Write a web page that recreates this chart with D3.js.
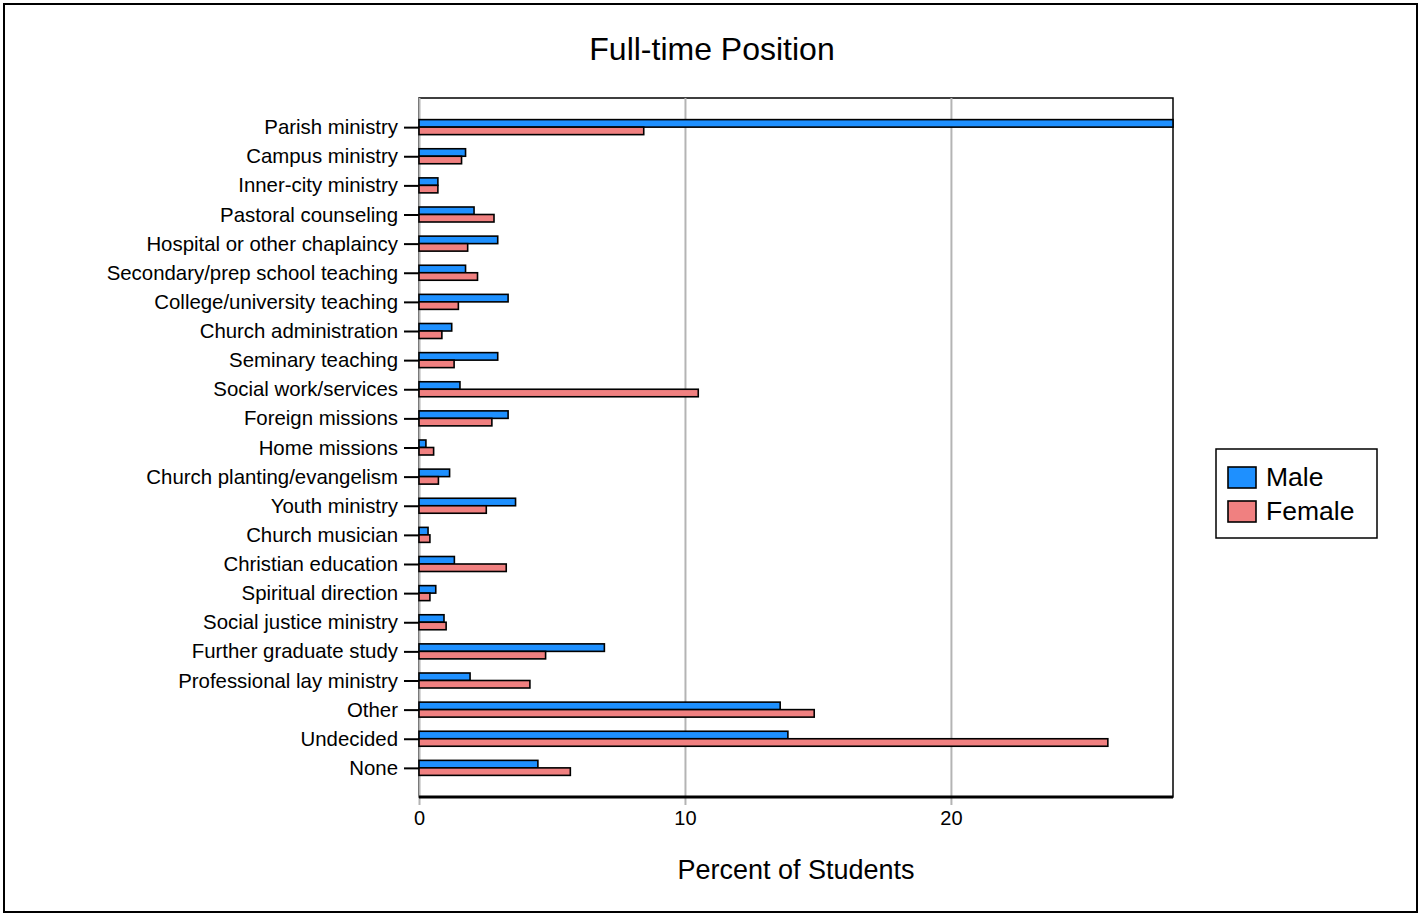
<!DOCTYPE html>
<html>
<head>
<meta charset="utf-8">
<script src="https://cdn.jsdelivr.net/npm/d3@7"></script>
<style>
  body { margin: 0; background: #fff; }
  text { font-family: "Liberation Sans", Arial, sans-serif; fill: #000; }
</style>
</head>
<body>
<svg id="chart"></svg>
<script>
// categories, top to bottom
var categories = [
  "Parish ministry", "Campus ministry", "Inner-city ministry", "Pastoral counseling",
  "Hospital or other chaplaincy", "Secondary/prep school teaching", "College/university teaching",
  "Church administration", "Seminary teaching", "Social work/services", "Foreign missions",
  "Home missions", "Church planting/evangelism", "Youth ministry", "Church musician",
  "Christian education", "Spiritual direction", "Social justice ministry",
  "Further graduate study", "Professional lay ministry", "Other", "Undecided", "None"
];
var maleValues = [28.35, 1.75, 0.71, 2.07, 2.96, 1.75, 3.35, 1.23, 2.96, 1.54, 3.35, 0.26,
  1.15, 3.63, 0.34, 1.33, 0.63, 0.94, 6.97, 1.92, 13.58, 13.87, 4.47];
var femaleValues = [8.45, 1.6, 0.71, 2.82, 1.83, 2.2, 1.48, 0.86, 1.32, 10.5, 2.74, 0.55,
  0.73, 2.53, 0.41, 3.28, 0.41, 1.02, 4.76, 4.17, 14.86, 25.9, 5.69];
var seriesNames = ["Male", "Female"];
var xTicks = [0, 10, 20];

var W = 1421, H = 916;
var margin = { top: 98, right: 248, bottom: 119, left: 419 };
var width = W - margin.left - margin.right,
  height = H - margin.top - margin.bottom;

var svg = d3.select("#chart").attr("width", W).attr("height", H);

// outer frame
svg.append("rect")
  .attr("x", 4).attr("y", 4)
  .attr("width", W - 8).attr("height", H - 8)
  .attr("fill", "none").attr("stroke", "#000").attr("stroke-width", 2);

var color = d3.scaleOrdinal().domain(seriesNames).range(["#1E90FF", "#F08080"]);

var xScale = d3.scaleLinear().domain([0, 28.35]).range([0, width]);
var yScale = d3.scalePoint().domain(categories).range([0, height]).padding(1);
var sexScale = d3.scaleBand().domain(seriesNames).range([-7.5, 7.5]);

var rows = categories.map(function(c, i) {
  return { cat: c, values: [
    { sex: "Male", v: maleValues[i] },
    { sex: "Female", v: femaleValues[i] }
  ] };
});

var g = svg.append("g")
  .attr("transform", "translate(" + margin.left + "," + margin.top + ")");

// plot frame
g.append("rect")
  .attr("width", width).attr("height", height)
  .attr("fill", "none").attr("stroke", "#000").attr("stroke-width", 1.5);

// grid lines + x ticks
g.append("g")
  .attr("class", "grid")
  .attr("transform", "translate(0," + height + ")")
  .call(d3.axisBottom(xScale).tickValues(xTicks).tickSize(height + 8).tickFormat(""))
  .call(function(s) {
    s.select(".domain").remove();
    s.selectAll(".tick line")
      .attr("transform", "translate(0," + (-height) + ")")
      .attr("stroke", "#b4b4b4").attr("stroke-width", 2);
  });

// x tick labels
g.append("g")
  .attr("transform", "translate(0," + height + ")")
  .call(d3.axisBottom(xScale).tickValues(xTicks).tickSize(0).tickPadding(14))
  .call(function(s) {
    s.select(".domain").remove();
    s.selectAll("text").attr("font-size", "20px").attr("fill", "#000");
  });

// bottom axis line (thick)
g.append("line")
  .attr("x1", 0).attr("x2", width)
  .attr("y1", height).attr("y2", height)
  .attr("stroke", "#000").attr("stroke-width", 3);

// y axis
g.append("g")
  .call(d3.axisLeft(yScale).tickSize(15).tickPadding(6))
  .call(function(s) {
    s.select(".domain").remove();
    s.selectAll(".tick line").attr("stroke", "#000").attr("stroke-width", 2);
    s.selectAll("text").attr("font-size", "20.4px").attr("fill", "#000");
  });

// bars
var groups = g.selectAll(".row")
  .data(rows)
  .enter()
  .append("g")
  .attr("class", "row")
  .attr("transform", function(d) { return "translate(0," + yScale(d.cat) + ")"; });

groups.selectAll("rect")
  .data(function(d) { return d.values; })
  .enter()
  .append("rect")
  .attr("x", xScale(0))
  .attr("y", function(d) { return sexScale(d.sex); })
  .attr("width", function(d) { return xScale(d.v) - xScale(0); })
  .attr("height", sexScale.bandwidth())
  .attr("fill", function(d) { return color(d.sex); })
  .attr("stroke", "#000")
  .attr("stroke-width", 1.6);

// title
svg.append("text")
  .attr("x", 712).attr("y", 60)
  .attr("text-anchor", "middle")
  .attr("font-size", "32px")
  .text("Full-time Position");

// x axis title
svg.append("text")
  .attr("x", 796).attr("y", 879)
  .attr("text-anchor", "middle")
  .attr("font-size", "27px")
  .text("Percent of Students");

// legend
var legend = svg.append("g").attr("transform", "translate(1216,449)");
legend.append("rect")
  .attr("width", 161).attr("height", 89)
  .attr("fill", "#fff").attr("stroke", "#000").attr("stroke-width", 1.5);
var items = legend.selectAll(".item")
  .data(seriesNames)
  .enter()
  .append("g")
  .attr("class", "item")
  .attr("transform", function(d, i) { return "translate(12," + (18 + i * 34) + ")"; });
items.append("rect")
  .attr("width", 28).attr("height", 21)
  .attr("fill", function(d) { return color(d); })
  .attr("stroke", "#000").attr("stroke-width", 1.6);
items.append("text")
  .attr("x", 38).attr("y", 19)
  .attr("font-size", "26.5px")
  .text(function(d) { return d; });
</script>
</body>
</html>
